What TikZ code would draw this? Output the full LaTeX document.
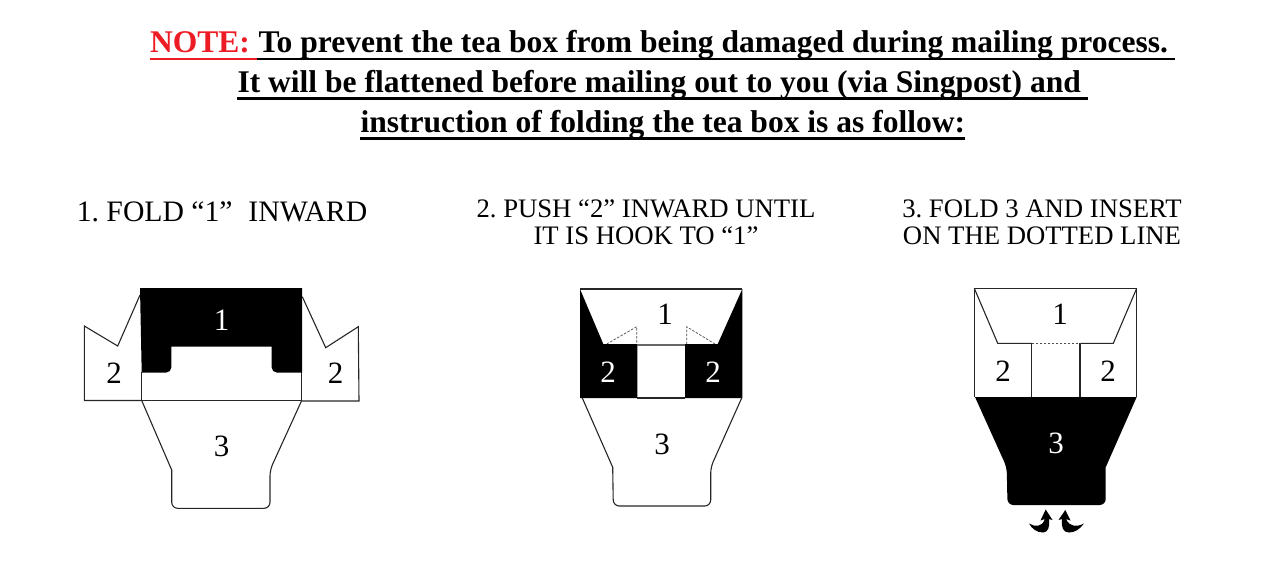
\documentclass[tikz,border=0pt]{standalone}
\usepackage{fontspec}
\setmainfont{Liberation Serif}
\usepackage{xcolor}
\usetikzlibrary{arrows.meta,positioning}
\definecolor{notered}{HTML}{ED1C24}
\frenchspacing
\begin{document}
\begin{tikzpicture}[x=1pt,y=-1pt,line width=1pt,
  title node/.style={inner sep=0pt,anchor=base west,font=\bfseries\fontsize{31.55}{32}\selectfont},
  step node/.style={inner sep=0pt,align=center,anchor=base,font=\fontsize{26.7}{27}\selectfont},
  num node/.style={inner sep=0pt,font=\fontsize{31}{31}\selectfont},
  white num/.style={num node,text=white},
  rule/.style={line width=2.4pt},
  fold/.style={draw=black!85,line width=1.1pt},
  dash fold/.style={black!70,line width=.7pt,dash pattern=on 2.5pt off 1.5pt}]
\useasboundingbox (0,0) rectangle (1280,560);
%title
\begin{scope}
\node[title node,text=notered] (note) at (149.5,52) {NOTE:};
\node[title node] (line1) at (258,52) {To prevent the tea box from being damaged during mailing process.};
\node[title node] (line2) at (237,92) {It will be flattened before mailing out to you (via Singpost) and};
\node[title node] (line3) at (360,132) {instruction of folding the tea box is as follow:};
\draw[rule,notered] (149.5,59) -- (257,59);
\draw[rule] (257,59) -- (1175,59);
\draw[rule] (237,98.5) -- (1088,98.5);
\draw[rule] (360,138.5) -- (965,138.5);
\end{scope}
%captions
\begin{scope}
\node[step node,font=\fontsize{29.7}{29}\selectfont] (cap1) at (222,221.5) {1. FOLD “1”\hspace{.28em} INWARD};
\node[step node] (cap2) at (646,244) {2. PUSH “2” INWARD UNTIL\\IT IS HOOK TO “1”};
\node[step node] (cap3) at (1042,244) {3. FOLD 3 AND INSERT\\ON THE DOTTED LINE};
\end{scope}
%first box
\begin{scope}
\draw[fold] (140,295) -- (117.7,346) -- (84.3,326) -- (84.3,400.5) -- (141.7,400.5);
\draw[fold] (302.3,296.7) -- (325.7,347.7) -- (358.3,326.7) -- (359,401) -- (301.7,401);
\draw[fold] (141.7,372) -- (141.7,400.5) -- (301.7,400.5) -- (301.7,372);
\draw[fold] (141.7,400.5) -- (171.7,470) [rounded corners=6pt] -- (171.7,508.3) -- (270,508.3) -- (270,470) [sharp corners] -- (301.7,400.5);
\fill (140,288) -- (302,288) -- (302,372.5) [rounded corners=5pt] -- (271.7,372.5) [sharp corners] -- (271.7,346.7) -- (171.3,346.7) [rounded corners=5pt] -- (171.3,372.5) [sharp corners] -- (141.7,372.5) -- cycle;
\node[white num] (a1) at (221.7,320) {1};
\node[num node] (a2) at (114,373) {2};
\node[num node] (a4) at (335.7,373) {2};
\node[num node] (a3) at (221.7,446) {3};
\end{scope}
%second box
\begin{scope}
\draw[fold] (580,289) -- (742.3,289);
\fill (580,289) -- (603.3,344) -- (637.3,344) -- (637.3,398) -- (580,398) -- cycle;
\fill (742.3,289) -- (717.7,344) -- (685,344) -- (685,398) -- (742.3,398) -- cycle;
\draw[fold,black!60] (637.3,345) -- (685,345);
\draw[fold] (637.3,398) -- (685,398);
\draw[dash fold] (606.7,344) -- (636.7,326.7) -- (636.7,344);
\draw[dash fold] (715,344) -- (686.7,326.7) -- (686.7,344);
\draw[fold] (582.3,398) -- (612.7,467.3) [rounded corners=6pt] -- (613.3,506) -- (710.7,506) -- (710.7,467.3) [sharp corners] -- (741.7,398);
\node[num node] (b1) at (665,314) {1};
\node[white num] (b2) at (608,372) {2};
\node[white num] (b4) at (713,372) {2};
\node[num node] (b3) at (662,444) {3};
\end{scope}
%third box
\begin{scope}
\draw[fold] (974.3,397.3) -- (974.3,288.3) -- (1136.7,288.3) -- (1136.7,397.3);
\draw[fold] (974.3,288.3) -- (997.7,343.3) -- (1031.7,343.3);
\draw[fold] (1136.7,288.3) -- (1113.3,343.3) -- (1080,343.3);
\draw[fold] (1031.7,343.3) -- (1031.7,397);
\draw[fold] (1080,343.3) -- (1080,397);
\draw[dash fold] (1031.7,343.3) -- (1080,343.3);
\fill (975,397) -- (1136.7,397) -- (1105.7,467.3) [rounded corners=6pt] -- (1105.7,505) -- (1007.5,505) -- (1006.7,467.3) [sharp corners] -- cycle;
\node[num node] (c1) at (1060,314) {1};
\node[num node] (c2) at (1003,371) {2};
\node[num node] (c4) at (1108,371) {2};
\node[white num] (c3) at (1056,443) {3};
%curled arrows
\fill (1029,523.5) .. controls (1035,527) and (1042,527.5) .. (1044.8,519) -- (1040.5,520.5) -- (1045.7,509.5) -- (1052.5,520) -- (1049,519) .. controls (1050,527) and (1048,532.5) .. (1043,532.5) .. controls (1037,532.5) and (1032,529) .. cycle;
\fill (1084,523.5) .. controls (1077,527) and (1070,527.5) .. (1066,519) -- (1070.5,520.5) -- (1065.3,510) -- (1058.5,520) -- (1062,519) .. controls (1061,527) and (1063,532.5) .. (1069,532.5) .. controls (1075,532.5) and (1080,529) .. cycle;
\end{scope}
\end{tikzpicture}
\end{document}
